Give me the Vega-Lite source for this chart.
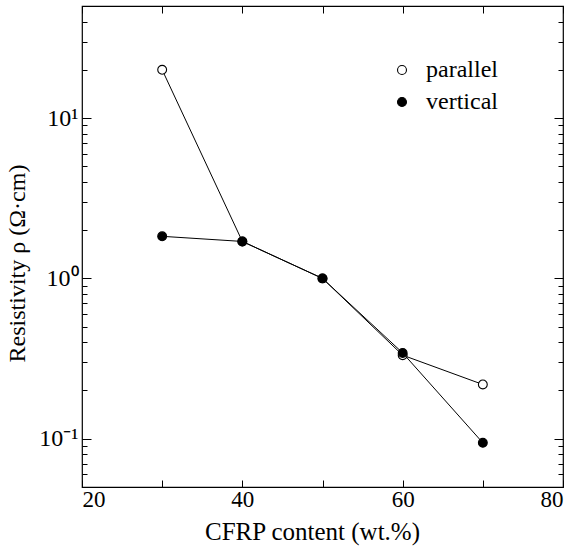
{
  "$schema": "https://vega.github.io/schema/vega-lite/v6.json",
  "width": 481,
  "height": 481,
  "autosize": {"type": "none"},
  "padding": {"left": 82, "top": 6, "right": 11, "bottom": 66},
  "background": "white",
  "config": {
    "font": "Liberation Serif",
    "view": {"stroke": "black", "strokeWidth": 1.2},
    "axis": {"domain": false, "grid": false, "tickColor": "black", "labelColor": "black", "titleColor": "black", "labelFont": "Liberation Serif", "titleFont": "Liberation Serif", "titleFontWeight": "normal"},
    "legend": {"labelFont": "Liberation Serif"}
  },
  "data": {
    "values": [
      {"content": 30, "rho": 20, "series": "parallel"},
      {"content": 40, "rho": 1.7, "series": "parallel"},
      {"content": 50, "rho": 1.0, "series": "parallel"},
      {"content": 60, "rho": 0.332, "series": "parallel"},
      {"content": 70, "rho": 0.218, "series": "parallel"},
      {"content": 30, "rho": 1.83, "series": "vertical"},
      {"content": 40, "rho": 1.7, "series": "vertical"},
      {"content": 50, "rho": 1.0, "series": "vertical"},
      {"content": 60, "rho": 0.343, "series": "vertical"},
      {"content": 70, "rho": 0.0943, "series": "vertical"}
    ]
  },
  "resolve": {"axis": {"x": "independent", "y": "independent"}},
  "layer": [
    {
      "mark": {"type": "line", "color": "black", "strokeWidth": 1},
      "encoding": {
        "x": {"field": "content", "type": "quantitative", "scale": {"domain": [20, 80], "nice": false, "zero": false},
          "axis": {"orient": "bottom", "values": [20, 30, 40, 50, 60, 70, 80], "labelExpr": "datum.value % 20 == 0 ? datum.label : ''", "tickSize": -7, "labelPadding": 8, "labelFontSize": 23, "title": "CFRP content (wt.%)", "titleFontSize": 25, "titlePadding": 8, "titleX": 230}},
        "y": {"field": "rho", "type": "quantitative", "scale": {"type": "log", "domain": [0.05, 50], "nice": false},
          "axis": {"orient": "left",
            "values": [0.05, 0.06, 0.07, 0.08, 0.09, 0.1, 0.2, 0.3, 0.4, 0.5, 0.6, 0.7, 0.8, 0.9, 1, 2, 3, 4, 5, 6, 7, 8, 9, 10, 20, 30, 40, 50],
            "labelExpr": "datum.value == 10 ? '10¹' : datum.value == 1 ? '10⁰' : datum.value == 0.1 ? '10⁻¹' : ''",
            "tickSize": {"condition": {"test": "datum.value == 10 || datum.value == 1 || datum.value == 0.1", "value": -9}, "value": -5},
            "labelPadding": 13, "labelFontSize": 24,
            "title": "Resistivity ρ  (Ω·cm)", "titleFontSize": 24, "titlePadding": 9, "titleY": 257}},
        "detail": {"field": "series"}
      }
    },
    {
      "mark": {"type": "point", "shape": "circle", "filled": false, "stroke": "black", "strokeWidth": 1.1, "size": 78, "opacity": 1},
      "encoding": {
        "x": {"field": "content", "type": "quantitative",
          "axis": {"orient": "top", "values": [20, 30, 40, 50, 60, 70, 80], "labels": false, "tickSize": -7, "title": null}},
        "y": {"field": "rho", "type": "quantitative",
          "axis": {"orient": "right",
            "values": [0.05, 0.06, 0.07, 0.08, 0.09, 0.1, 0.2, 0.3, 0.4, 0.5, 0.6, 0.7, 0.8, 0.9, 1, 2, 3, 4, 5, 6, 7, 8, 9, 10, 20, 30, 40, 50],
            "labels": false,
            "tickSize": {"condition": {"test": "datum.value == 10 || datum.value == 1 || datum.value == 0.1", "value": -9}, "value": -5},
            "title": null}},
        "fill": {"field": "series", "type": "nominal", "scale": {"domain": ["parallel", "vertical"], "range": ["white", "black"]},
          "legend": {"title": null, "orient": "none", "legendX": 308, "legendY": 52, "labelFontSize": 24, "labelColor": "black", "symbolType": "circle", "symbolSize": 80, "symbolStrokeColor": "black", "symbolStrokeWidth": 1.1, "rowPadding": 8, "labelOffset": 12, "symbolOffset": 0}}
      }
    }
  ]
}
